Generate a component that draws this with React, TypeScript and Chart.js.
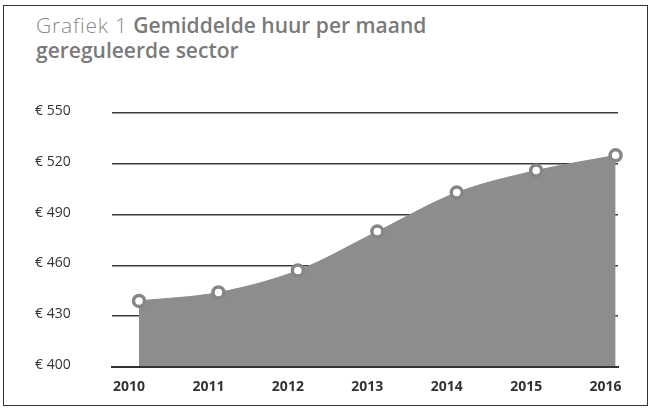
import React, { useEffect, useRef } from "react";
import { Chart, registerables } from "chart.js";

Chart.register(...registerables);

const years = [2010, 2011, 2012, 2013, 2014, 2015, 2016];
const huur = [439, 444, 457, 480, 503, 516, 525];
const yTickValues = [400, 430, 460, 490, 520, 550];
const titleLabel = "Grafiek 1";
const titleMain = "Gemiddelde huur per maand";
const titleSub = "gereguleerde sector";
const xMin = 2009.66;
const xMax = 2016.03;
const yMin = 400;
const yMax = 550;

export default function App() {
  const ref = useRef<HTMLCanvasElement>(null);

  useEffect(() => {
    const chart = new Chart(ref.current!, {
      type: "line",
      data: {
        datasets: [
          {
            data: years.map((y, i) => ({ x: y, y: huur[i] })),
            fill: "origin",
            backgroundColor: "#8d8d8d",
            borderColor: "#8d8d8d",
            borderWidth: 1,
            cubicInterpolationMode: "monotone",
            pointRadius: 5.5,
            pointBorderWidth: 3.5,
            pointBorderColor: "#868686",
            pointBackgroundColor: "#ffffff",
            clip: false,
          } as any,
        ],
      },
      options: {
        animation: false,
        responsive: false,
        devicePixelRatio: 1,
        layout: { padding: { left: 35, right: 34, top: 23, bottom: 4 } },
        plugins: {
          legend: { display: false },
          tooltip: { enabled: false },
        },
        scales: {
          x: {
            type: "linear",
            min: xMin,
            max: xMax,
            afterBuildTicks: (axis: any) => {
              axis.ticks = years.map((v) => ({ value: v }));
            },
            afterFit: (s: any) => {
              s.height = 29;
            },
            grid: { display: false, drawTicks: false },
            border: { display: true, color: "#333333", width: 2, z: 1 } as any,
            ticks: {
              callback: (v: any) => String(v),
              font: { family: "'Open Sans', sans-serif", size: 14, weight: "bold" },
              color: "#333333",
              labelOffset: -10,
              padding: 12,
              maxRotation: 0,
              autoSkip: false,
            },
          },
          y: {
            type: "linear",
            min: yMin,
            max: yMax,
            afterBuildTicks: (axis: any) => {
              axis.ticks = yTickValues.map((v) => ({ value: v }));
            },
            afterFit: (s: any) => {
              s.width = 77;
            },
            grid: { color: "#3a3a3a", lineWidth: 1.5, drawTicks: false },
            border: { display: false },
            ticks: {
              callback: (v: any) => "€ " + v,
              font: { family: "'Open Sans', sans-serif", size: 14 },
              color: "#333333",
              crossAlign: "far",
              padding: 0,
              labelOffset: -2,
            },
          },
        },
      },
    });
    return () => chart.destroy();
  }, []);

  return (
    <div
      style={{
        position: "fixed",
        left: 0,
        top: 0,
        width: 652,
        height: 412,
        background: "#ffffff",
        overflow: "hidden",
      }}
    >
      <div
        style={{
          position: "absolute",
          left: 3,
          top: 5,
          width: 643,
          height: 399,
          border: "1.5px solid #333",
        }}
      />
      <div
        style={{
          position: "absolute",
          left: 36,
          top: 13,
          fontFamily: "'Open Sans', sans-serif",
          fontSize: 21,
          lineHeight: "25px",
          color: "#7a7a7a",
          whiteSpace: "nowrap",
        }}
      >
        <div>
          <span style={{ fontWeight: 300, color: "#8a8a8a", letterSpacing: 0.8 }}>{titleLabel}</span>
          <span style={{ fontWeight: 600 }}>{"  " + titleMain}</span>
        </div>
        <div style={{ fontWeight: 600 }}>{titleSub}</div>
      </div>
      <canvas
        ref={ref}
        width={652}
        height={310}
        style={{ position: "absolute", left: 0, top: 90 }}
      />
    </div>
  );
}
